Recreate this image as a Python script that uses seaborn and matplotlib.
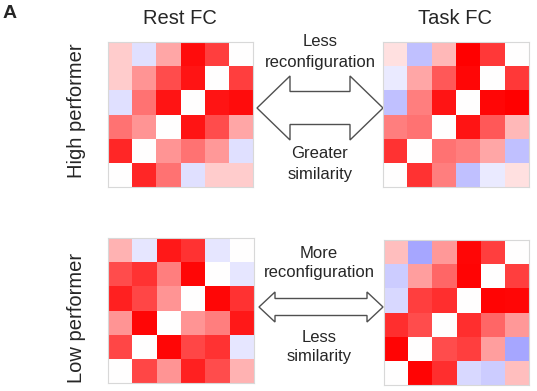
import numpy as np
import seaborn as sns
import matplotlib.pyplot as plt
from matplotlib.patches import Polygon

W, H = 537, 391

# 6x6 FC matrices (rows top to bottom), values in [-1, 1]
high_rest = [
    [0.20, -0.12, 0.35, 0.95, 0.75, 0.00],
    [0.20, 0.42, 0.70, 0.92, 0.00, 0.75],
    [-0.12, 0.55, 0.92, 0.00, 0.92, 0.95],
    [0.55, 0.42, 0.00, 0.92, 0.70, 0.35],
    [0.85, 0.00, 0.42, 0.55, 0.40, -0.12],
    [0.00, 0.85, 0.55, -0.12, 0.20, 0.20],
]
high_task = [
    [0.12, -0.25, 0.28, 1.00, 0.78, 0.00],
    [-0.08, 0.35, 0.65, 0.97, 0.00, 0.78],
    [-0.25, 0.50, 0.92, 0.00, 0.97, 1.00],
    [0.50, 0.55, 0.00, 0.92, 0.65, 0.28],
    [0.80, 0.00, 0.55, 0.50, 0.35, -0.25],
    [0.00, 0.80, 0.50, -0.25, -0.08, 0.12],
]
low_rest = [
    [0.30, -0.10, 0.90, 0.80, -0.10, 0.00],
    [0.70, 0.80, 0.50, 0.97, 0.00, -0.10],
    [0.87, 0.72, 0.42, 0.00, 0.97, 0.80],
    [0.42, 0.97, 0.00, 0.42, 0.50, 0.90],
    [0.72, 0.00, 0.97, 0.72, 0.80, -0.10],
    [0.00, 0.72, 0.42, 0.87, 0.70, 0.30],
]
low_task = [
    [0.25, -0.35, 0.40, 0.97, 0.75, 0.00],
    [-0.20, 0.38, 0.60, 0.98, 0.00, 0.75],
    [-0.15, 0.75, 0.82, 0.00, 0.98, 0.97],
    [0.82, 0.70, 0.00, 0.82, 0.60, 0.40],
    [0.98, 0.00, 0.70, 0.75, 0.38, -0.35],
    [0.00, 0.98, 0.82, -0.15, -0.20, 0.25],
]

col_titles = ["Rest FC", "Task FC"]
row_titles = ["High performer", "Low performer"]
top_text = [["Less", "reconfiguration"], ["Greater", "similarity"]]
bottom_text = [["More", "reconfiguration"], ["Less", "similarity"]]

sns.set_style("white")
plt.rcParams["font.family"] = ["Liberation Sans", "DejaVu Sans"]

fig = plt.figure(figsize=(W / 100, H / 100), dpi=100)


def px_axes(x, y, w, h):
    return fig.add_axes([x / W, 1 - (y + h) / H, w / W, h / H])


def heat(mat, x, y, w, h):
    ax = px_axes(x, y, w, h)
    sns.heatmap(np.array(mat), ax=ax, cmap="bwr", vmin=-1, vmax=1,
                cbar=False, xticklabels=False, yticklabels=False)
    for s in ax.spines.values():
        s.set_visible(True)
        s.set_color("#d8d8d8")
        s.set_linewidth(0.8)
    return ax


heat(high_rest, 108, 42, 145, 145)
heat(high_task, 383, 42, 146, 145)
heat(low_rest, 108, 238, 146, 145)
heat(low_task, 384, 240, 145, 145)

# overlay in pixel coords for arrows and text
ov = fig.add_axes([0, 0, 1, 1], zorder=-1)
ov.set_xlim(0, W)
ov.set_ylim(H, 0)
ov.axis("off")


def double_arrow(x0, x1, yc, head_h, shaft_h, head_l):
    pts = [
        (x0, yc), (x0 + head_l, yc - head_h), (x0 + head_l, yc - shaft_h),
        (x1 - head_l, yc - shaft_h), (x1 - head_l, yc - head_h), (x1, yc),
        (x1 - head_l, yc + head_h), (x1 - head_l, yc + shaft_h),
        (x0 + head_l, yc + shaft_h), (x0 + head_l, yc + head_h),
    ]
    ov.add_patch(Polygon(pts, closed=True, facecolor="white",
                         edgecolor="#505050", linewidth=1.0))


double_arrow(257, 383, 108, 32, 16.5, 33)
double_arrow(259, 383, 307, 15, 8.5, 16)

ov.text(320, 42, top_text[0][0], ha="center", va="center", fontsize=12)
ov.text(320, 63, top_text[0][1], ha="center", va="center", fontsize=12)
ov.text(320, 154, top_text[1][0], ha="center", va="center", fontsize=12)
ov.text(320, 174, top_text[1][1], ha="center", va="center", fontsize=12)

ov.text(319, 253, bottom_text[0][0], ha="center", va="center", fontsize=12)
ov.text(319, 273, bottom_text[0][1], ha="center", va="center", fontsize=12)
ov.text(319, 337, bottom_text[1][0], ha="center", va="center", fontsize=12)
ov.text(319, 357, bottom_text[1][1], ha="center", va="center", fontsize=12)

ov.text(180, 18, col_titles[0], ha="center", va="center", fontsize=14.5)
ov.text(455, 18, col_titles[1], ha="center", va="center", fontsize=14.5)
ov.text(77, 111, row_titles[0], ha="center", va="center", fontsize=14.5,
        rotation=90)
ov.text(77, 318, row_titles[1], ha="center", va="center", fontsize=14.5,
        rotation=90)
ov.text(10, 14, "A", ha="center", va="center", fontsize=14,
        fontweight="bold")

plt.savefig("out.png", dpi=100)
